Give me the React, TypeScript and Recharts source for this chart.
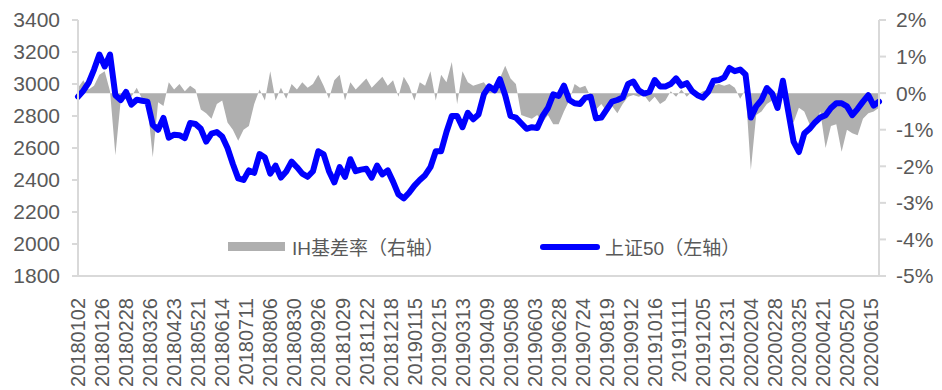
import React from "react";
import { ComposedChart, Line, Area, XAxis, YAxis, Legend } from "recharts";

// Tick labels: one every 18 trading days, starting 2018-01-02
const tickLabels = [
  "20180102", "20180126", "20180228", "20180326", "20180423", "20180521", "20180614",
  "20180711", "20180806", "20180830", "20180926", "20181029", "20181122", "20181218",
  "20190115", "20190215", "20190313", "20190409", "20190508", "20190603", "20190628",
  "20190724", "20190819", "20190912", "20191016", "20191111", "20191205", "20191231",
  "20200204", "20200228", "20200325", "20200421", "20200520", "20200615",
];
const tickStep = 18; // trading days between labels
const sampleStep = 4; // trading days between sampled readings

// 上证50 (left axis), sampled every 4 trading days
const sse50 = [
  2921, 2958, 3009, 3090, 3184, 3110, 3184, 2930, 2900, 2950,
  2871, 2902, 2895, 2890, 2745, 2714, 2788, 2665, 2683, 2680,
  2662, 2756, 2750, 2720, 2640, 2690, 2700, 2672, 2600, 2500,
  2410, 2400, 2460, 2445, 2562, 2540, 2440, 2490, 2415, 2453,
  2515, 2480, 2440, 2420, 2455, 2580, 2560, 2455, 2385, 2480,
  2420, 2530, 2455, 2465, 2470, 2415, 2490, 2435, 2460, 2390,
  2310, 2285, 2320, 2365, 2400, 2430, 2480, 2580, 2580, 2700,
  2800, 2800, 2730, 2820, 2780, 2810, 2935, 2985, 2960, 3030,
  2930, 2800, 2790, 2755, 2720, 2730, 2725, 2800, 2850, 2935,
  2925, 2990, 2900, 2880, 2875, 2915, 2920, 2785, 2790, 2840,
  2890, 2900, 2915, 3000, 3015, 2960, 2940, 2950, 3025, 2985,
  2985, 3000, 3035, 2990, 3005, 2955, 2930, 2915, 2950, 3020,
  3025, 3040, 3100, 3080, 3090, 3060, 2790, 2860, 2900, 2975,
  2940, 2850, 3020, 2830, 2640, 2575, 2690, 2720, 2760, 2790,
  2805, 2850, 2880, 2880, 2860, 2805, 2845, 2890, 2930, 2865,
  2890,
];

// IH基差率 in % (right axis), sampled every 4 trading days
const ihBasis = [
  0.15, 0.35, 0.1, 0.2, 0.5, 0.6, 0.05, -1.7, -0.2, 0.1,
  -0.1, 0.15, -0.15, -0.3, -1.75, -0.25, -0.35, 0.3, 0.1, 0.25,
  0.05, 0.2, 0.1, -0.45, -0.55, -0.7, -0.3, -0.2, -0.8, -1.0,
  -1.3, -1.0, -0.9, -0.3, 0.1, -0.2, 0.6, -0.2, 0.15, -0.15,
  0.25, 0.1, 0.3, 0.15, 0.25, 0.5, 0.2, -0.15, 0.35, 0.5,
  -0.2, 0.3, 0.1, 0.25, 0.4, 0.15, 0.3, 0.45, 0.2, 0.35,
  -0.1, 0.45, 0.2, -0.2, 0.3, 0.2, 0.6, -0.2, 0.5, 0.3,
  0.85, -0.3, 0.6, 0.3, 0.2, 0.25, 0.3, 0.1, 0.2, 0.4,
  0.75, 0.4, 0.25, -0.6, -0.65, -0.7, -0.6, -0.8, -0.6, -0.85,
  -0.85, -0.5, -0.2, 0.25, 0.15, 0.2, -0.1, -0.45, -0.3, -0.5,
  -0.35, -0.55, -0.3, -0.1, -0.05, -0.1, -0.05, -0.25, -0.1, -0.3,
  -0.2, 0.05, -0.1, 0.1, -0.1, 0.05, -0.05, 0.05, 0.1, 0.2,
  0.25, 0.2, 0.25, 0.15, -0.15, 0.1, -2.1, -0.6, -0.5, -0.3,
  -0.2, -0.1, 0.0, -0.6, -0.8, -0.4, -0.5, -0.85, -0.9, -0.5,
  -1.5, -0.9, -0.85, -1.6, -1.0, -1.1, -1.15, -0.7, -0.55, -0.5,
  -0.4,
];

const leftTicks = [1800, 2000, 2200, 2400, 2600, 2800, 3000, 3200, 3400];
const rightTicks = [-5, -4, -3, -2, -1, 0, 1, 2];

const data = sse50.map((v, k) => ({ i: k * sampleStep, sse: v, ih: ihBasis[k] }));
const xTicks = tickLabels.map((_, n) => n * tickStep);

const TEXT = "#595959";
const AXIS = "#D9D9D9";
const FONT = "'Liberation Sans', Arial, 'Noto Sans CJK SC', sans-serif";

const XTick = (props: any) => {
  const { x, y, payload } = props;
  const label = tickLabels[Math.round(payload.value / tickStep)] ?? "";
  return (
    <text
      x={x}
      y={y + 14}
      transform={`rotate(-90, ${x}, ${y + 14})`}
      textAnchor="end"
      dy="0.36em"
      fill={TEXT}
      fontSize={20}
      fontFamily={FONT}
    >
      {label}
    </text>
  );
};

const LegendContent = () => (
  <div style={{ position: "relative", width: 942, height: 30, fontFamily: FONT, color: TEXT, fontSize: 19 }}>
    <div style={{ position: "absolute", left: 228, top: 11, width: 57, height: 9, background: "#AFAFAF" }} />
    <div style={{ position: "absolute", left: 292, top: 2, whiteSpace: "nowrap" }}>IH基差率（右轴）</div>
    <div style={{ position: "absolute", left: 540, top: 13, width: 60, height: 6, background: "#0000FF", borderRadius: 3 }} />
    <div style={{ position: "absolute", left: 605, top: 2, whiteSpace: "nowrap" }}>上证50（左轴）</div>
  </div>
);

export default function App() {
  return (
    <div style={{ position: "absolute", left: 0, top: 0, width: 942, height: 390, background: "#fff" }}>
      <ComposedChart width={942} height={390} data={data} margin={{ top: 20, right: 0, bottom: 0, left: 0 }}>
        <XAxis
          dataKey="i"
          type="number"
          domain={[0, 600]}
          ticks={xTicks}
          interval={0}
          tick={<XTick />}
          tickLine={false}
          axisLine={{ stroke: AXIS, strokeWidth: 2 }}
          height={114}
        />
        <YAxis
          yAxisId="left"
          orientation="left"
          domain={[1800, 3400]}
          ticks={leftTicks}
          interval={0}
          width={78}
          tickSize={6}
          tickMargin={12}
          tickLine={{ stroke: AXIS, strokeWidth: 2 }}
          axisLine={{ stroke: AXIS, strokeWidth: 2 }}
          tick={{ fill: TEXT, fontSize: 21, fontFamily: FONT }}
        />
        <YAxis
          yAxisId="right"
          orientation="right"
          domain={[-5, 2]}
          ticks={rightTicks}
          interval={0}
          width={63}
          tickSize={7}
          tickMargin={10}
          tickFormatter={(v: number) => `${v}%`}
          tickLine={{ stroke: AXIS, strokeWidth: 2 }}
          axisLine={{ stroke: AXIS, strokeWidth: 2 }}
          tick={{ fill: TEXT, fontSize: 21, fontFamily: FONT }}
        />
        <Legend
          layout="horizontal"
          verticalAlign="middle"
          align="center"
          content={<LegendContent />}
          wrapperStyle={{ position: "absolute", left: 0, top: 231, width: 942, height: 30 }}
        />
        <Area
          yAxisId="right"
          dataKey="ih"
          type="linear"
          baseValue={0}
          fill="#AFAFAF"
          fillOpacity={1}
          stroke="none"
          isAnimationActive={false}
        />
        <Line
          yAxisId="left"
          dataKey="sse"
          type="linear"
          stroke="#0000FF"
          strokeWidth={6}
          strokeLinejoin="round"
          strokeLinecap="round"
          dot={false}
          isAnimationActive={false}
        />
      </ComposedChart>
    </div>
  );
}
